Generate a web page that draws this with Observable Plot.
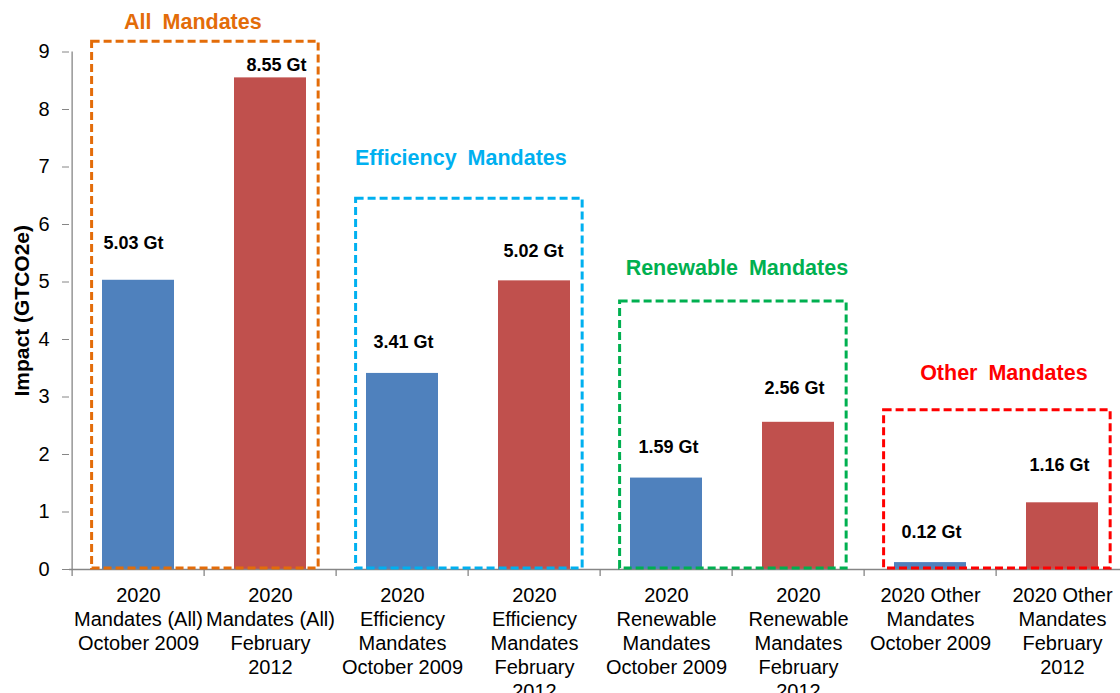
<!DOCTYPE html>
<html><head><meta charset="utf-8">
<script src="https://cdn.jsdelivr.net/npm/d3@7"></script>
<script src="https://cdn.jsdelivr.net/npm/@observablehq/plot@0.6"></script>
<style>body{margin:0;background:#fff;} #chart svg{display:block}</style>
</head><body><div id="chart"></div>
<script>
// ---- data ----
const categories = [
  "2020\nMandates (All)\nOctober 2009",
  "2020\nMandates (All)\nFebruary\n2012",
  "2020\nEfficiency\nMandates\nOctober 2009",
  "2020\nEfficiency\nMandates\nFebruary\n2012",
  "2020\nRenewable\nMandates\nOctober 2009",
  "2020\nRenewable\nMandates\nFebruary\n2012",
  "2020 Other\nMandates\nOctober 2009",
  "2020 Other\nMandates\nFebruary\n2012"
];
const values = [5.03, 8.55, 3.41, 5.02, 1.59, 2.56, 0.12, 1.16];
const valueLabels = ["5.03 Gt", "8.55 Gt", "3.41 Gt", "5.02 Gt", "1.59 Gt", "2.56 Gt", "0.12 Gt", "1.16 Gt"];
const periods = ["October 2009", "February 2012"];
const periodColors = ["#4F81BD", "#C0504D"];
const yTicks = [0, 1, 2, 3, 4, 5, 6, 7, 8, 9];

const groupNames = ["All Mandates", "Efficiency Mandates", "Renewable Mandates", "Other Mandates"];
const groupFirstIndex = [0, 2, 4, 6];
const groupColors = ["#E36C09", "#00B0F0", "#00B050", "#FF0000"];
// annotation geometry (value units / px offsets)
const groupBoxTop = [9.18, 6.45, 4.66, 2.77];
const groupTitleY = [9.52, 7.16, 5.24, 3.41];
const groupTitleDx = [-12, -8, 4, 7];
const labelDy = [-37, -13, -31, -30, -31, -34, -30, -38];
const labelDx = [-5, 6, 1, -1, 2, -4, 1, -3];

// ---- layout ----
const W = 1120, H = 693;
const xRange = [69, 1131];
const pInner = 0.458;
const step = (xRange[1] - xRange[0]) / categories.length;
const bw = step * (1 - pInner);
const off = step * pInner / 2;
const axisGray = "#868686";

const bars = categories.map((c, i) => ({cat: c, value: values[i], label: valueLabels[i], color: periodColors[i % 2], dy: labelDy[i], dx: labelDx[i]}));
const groups = groupNames.map((g, i) => ({name: g, cat: categories[groupFirstIndex[i]], top: groupBoxTop[i], titleY: groupTitleY[i], color: groupColors[i], dx: groupTitleDx[i]}));

const chart = Plot.plot({
  width: W, height: H,
  marginLeft: 69, marginRight: 0, marginTop: 51.5, marginBottom: 124,
  style: {fontFamily: "'Liberation Sans', Arial, sans-serif", fontSize: "20px", color: "#000", background: "#fff"},
  x: {domain: categories, range: xRange, paddingInner: pInner, paddingOuter: pInner / 2, align: 0.5},
  y: {domain: [0, 9]},
  color: {type: "identity"},
  marks: [
    Plot.barY(bars, {x: "cat", y: "value", fill: "color"}),
    Plot.ruleY([0], {stroke: axisGray, strokeWidth: 1.3}),
    Plot.ruleX([categories[0]], {x: d => d, y1: 0, y2: 9, dx: -step / 2, stroke: axisGray, strokeWidth: 1.3}),
    Plot.ruleX(categories, {x: d => d, y1: 0, y2: 0, dx: -step / 2, insetBottom: -7, stroke: axisGray, strokeWidth: 1.3}),
    Plot.axisY({ticks: yTicks, tickSize: 7, tickPadding: 13, stroke: axisGray, fill: "#000", fontSize: 20, label: null, tickFormat: d => String(d)}),
    Plot.axisX({tickSize: 0, tickPadding: 15, fontSize: 20, lineHeight: 1.2, fill: "#000", label: null}),
    Plot.barY(groups, {
      x: "cat", y: "top", fill: "none", stroke: "color", strokeWidth: 3, strokeDasharray: "8,4",
      insetLeft: -(off - 20), insetRight: -(2 * step - 19 - off - bw), insetBottom: 1
    }),
    ...bars.map(d => Plot.text([d], {x: "cat", y: "value", text: "label", dy: d.dy, dx: d.dx, fontSize: 18, fontWeight: "bold", fill: "#000", lineAnchor: "middle"})),
    ...groups.map(g => Plot.text([g], {x: "cat", y: "titleY", text: "name", dx: step / 2 + g.dx, fill: "color", fontSize: 21.5, fontWeight: "bold", lineAnchor: "middle"})),
    Plot.text(["Impact (GTCO2e)"], {frameAnchor: "left", text: d => d, rotate: -90, dx: -47, fontSize: 21, fontWeight: "bold", fill: "#000", textAnchor: "middle", lineAnchor: "middle"})
  ]
});
d3.select(chart).selectAll("text").filter(function() { return groupNames.includes(this.textContent); }).attr("word-spacing", "5px");
document.getElementById("chart").appendChild(chart);
</script>
</body></html>
